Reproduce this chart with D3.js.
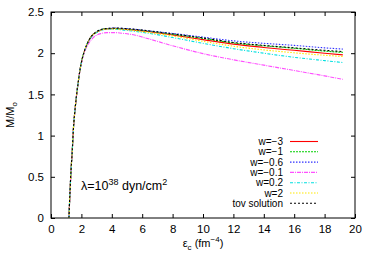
<!DOCTYPE html>
<html>
<head>
<meta charset="utf-8">
<script src="https://cdn.jsdelivr.net/npm/d3@7"></script>
<style>
  html, body { margin: 0; padding: 0; background: #fff; }
  svg { display: block; font-family: "Liberation Sans", Arial, sans-serif; }
  .axis text { font-size: 11.5px; fill: #000; }
  .axis path, .axis line { stroke: #000; }
</style>
</head>
<body>
<div id="chart"></div>
<script>
// central energy density (fm^-4), shared by every curve
const eps = [1.18, 1.25, 1.32, 1.40, 1.47, 1.60, 1.70, 1.80, 1.91, 2.05, 2.24, 2.45, 2.68,
             3.0, 3.33, 3.7, 4.2, 4.8, 5.5, 6.5, 8, 10, 12, 14, 16, 18, 19.2];

// M/Msun per equation-of-state parameter w
const mW_m3  = [0, 0.32, 0.585, 0.82, 1.07, 1.35, 1.52, 1.66, 1.80, 1.93, 2.05, 2.14, 2.21,
                2.255, 2.285, 2.295, 2.30, 2.29, 2.28, 2.26, 2.22, 2.165, 2.11, 2.07, 2.035, 2.0, 1.98];
const mW_m1  = [0, 0.32, 0.585, 0.82, 1.07, 1.35, 1.52, 1.66, 1.80, 1.93, 2.05, 2.14, 2.21,
                2.26, 2.29, 2.30, 2.30, 2.295, 2.285, 2.265, 2.23, 2.18, 2.125, 2.09, 2.06, 2.025, 2.01];
const mW_m06 = [0, 0.32, 0.585, 0.82, 1.07, 1.35, 1.52, 1.66, 1.80, 1.93, 2.05, 2.14, 2.21,
                2.26, 2.29, 2.30, 2.305, 2.30, 2.29, 2.27, 2.24, 2.195, 2.15, 2.12, 2.095, 2.065, 2.05];
const mW_m01 = [0, 0.32, 0.585, 0.82, 1.07, 1.35, 1.52, 1.66, 1.79, 1.91, 2.03, 2.11, 2.17,
                2.22, 2.24, 2.25, 2.25, 2.24, 2.22, 2.17, 2.09, 1.995, 1.92, 1.855, 1.79, 1.725, 1.683];
const mW_02  = [0, 0.32, 0.585, 0.82, 1.07, 1.35, 1.52, 1.66, 1.80, 1.93, 2.05, 2.14, 2.20,
                2.25, 2.28, 2.29, 2.29, 2.28, 2.265, 2.24, 2.19, 2.12, 2.055, 2.0, 1.95, 1.91, 1.887];
const mW_2   = [0, 0.32, 0.585, 0.82, 1.07, 1.35, 1.52, 1.66, 1.80, 1.93, 2.05, 2.14, 2.21,
                2.255, 2.285, 2.295, 2.295, 2.29, 2.275, 2.25, 2.21, 2.145, 2.085, 2.04, 2.005, 1.975, 1.96];
const mTov   = [0, 0.32, 0.585, 0.82, 1.07, 1.35, 1.52, 1.66, 1.80, 1.93, 2.05, 2.14, 2.21,
                2.26, 2.29, 2.30, 2.305, 2.30, 2.29, 2.27, 2.235, 2.185, 2.13, 2.095, 2.065, 2.035, 2.02];

const seriesLabels = ['w=\u22123', 'w=\u22121', 'w=\u22120.6', 'w=\u22120.1', 'w=0.2', 'w=2', 'tov solution'];
const seriesValues = [mW_m3, mW_m1, mW_m06, mW_m01, mW_02, mW_2, mTov];
const seriesColors = ['#ff0000', '#00d000', '#3030ff', '#ff50ff', '#00e0e0', '#ffe800', '#000000'];
const seriesDash   = [null, '2,1', '1.5,1.5', '4,1,1,1', '3,1.5,1,1.5', '1.5,1.5', '2,2'];

const xTicks = [0, 2, 4, 6, 8, 10, 12, 14, 16, 18, 20];
const yTicks = [0, 0.5, 1, 1.5, 2, 2.5];

const W = 374, H = 262;
const margin = { top: 12, right: 19, bottom: 44, left: 51 };

const svg = d3.select('#chart').append('svg')
  .attr('width', W).attr('height', H);

const x = d3.scaleLinear().domain([0, 20]).range([margin.left, W - margin.right]);
const y = d3.scaleLinear().domain([0, 2.5]).range([H - margin.bottom, margin.top]);

// axes: inward ticks, mirrored on top/right
const fmtY = d => d === 0 ? '0' : String(d);
svg.append('g').attr('class', 'axis')
  .attr('transform', `translate(0,${y(0)})`)
  .call(d3.axisBottom(x).tickValues(xTicks).tickSize(-4).tickPadding(7).tickFormat(d3.format('d')))
  .call(g => g.select('.domain').remove());
svg.append('g').attr('class', 'axis')
  .attr('transform', `translate(0,${y(2.5)})`)
  .call(d3.axisTop(x).tickValues(xTicks).tickSize(-4).tickFormat(''))
  .call(g => g.select('.domain').remove());
svg.append('g').attr('class', 'axis')
  .attr('transform', `translate(${x(0)},0)`)
  .call(d3.axisLeft(y).tickValues(yTicks).tickSize(-4).tickPadding(7).tickFormat(fmtY))
  .call(g => g.select('.domain').remove());
svg.append('g').attr('class', 'axis')
  .attr('transform', `translate(${x(20)},0)`)
  .call(d3.axisRight(y).tickValues(yTicks).tickSize(-4).tickFormat(''))
  .call(g => g.select('.domain').remove());

svg.append('rect')
  .attr('x', x(0)).attr('y', y(2.5))
  .attr('width', x(20) - x(0)).attr('height', y(0) - y(2.5))
  .attr('fill', 'none').attr('stroke', '#000').attr('stroke-width', 1);

// curves
const line = d3.line()
  .x((d, i) => x(eps[i]))
  .y(d => y(d))
  .curve(d3.curveMonotoneX);

svg.append('g').selectAll('path')
  .data(seriesValues)
  .join('path')
  .attr('d', d => line(d))
  .attr('fill', 'none')
  .attr('stroke', (d, i) => seriesColors[i])
  .attr('stroke-width', 1.1)
  .attr('stroke-dasharray', (d, i) => seriesDash[i]);

// legend
const legend = svg.append('g').attr('font-size', '10px');
const rowY = i => 141.5 + i * 10.3;
seriesLabels.forEach((lab, i) => {
  legend.append('text')
    .attr('x', 283).attr('y', rowY(i)).attr('dy', '0.35em')
    .attr('text-anchor', 'end').text(lab);
  legend.append('line')
    .attr('x1', 290).attr('x2', 318)
    .attr('y1', rowY(i)).attr('y2', rowY(i))
    .attr('stroke', seriesColors[i]).attr('stroke-width', 1.1)
    .attr('stroke-dasharray', seriesDash[i]);
});

// annotation
const note = svg.append('text').attr('x', 81).attr('y', 190).attr('font-size', '12.5px');
note.append('tspan').text('\u03bb=10');
note.append('tspan').attr('dy', -5).attr('font-size', '9px').text('38');
note.append('tspan').attr('dy', 5).text(' dyn/cm');
note.append('tspan').attr('dy', -5).attr('font-size', '9px').text('2');

// axis titles
const xt = svg.append('text').attr('x', x(10)).attr('y', 247)
  .attr('text-anchor', 'middle').attr('font-size', '11px');
xt.append('tspan').text('\u03b5');
xt.append('tspan').attr('dy', 3).attr('font-size', '8px').text('c');
xt.append('tspan').attr('dy', -3).text(' (fm');
xt.append('tspan').attr('dy', -5).attr('font-size', '8px').text('\u22124');
xt.append('tspan').attr('dy', 5).text(')');

const yt = svg.append('text')
  .attr('transform', `translate(14,${y(1.25)}) rotate(-90)`)
  .attr('text-anchor', 'middle').attr('font-size', '11px');
yt.append('tspan').text('M/M');
yt.append('tspan').attr('dy', 3).attr('font-size', '8px').text('o');
</script>
</body>
</html>
